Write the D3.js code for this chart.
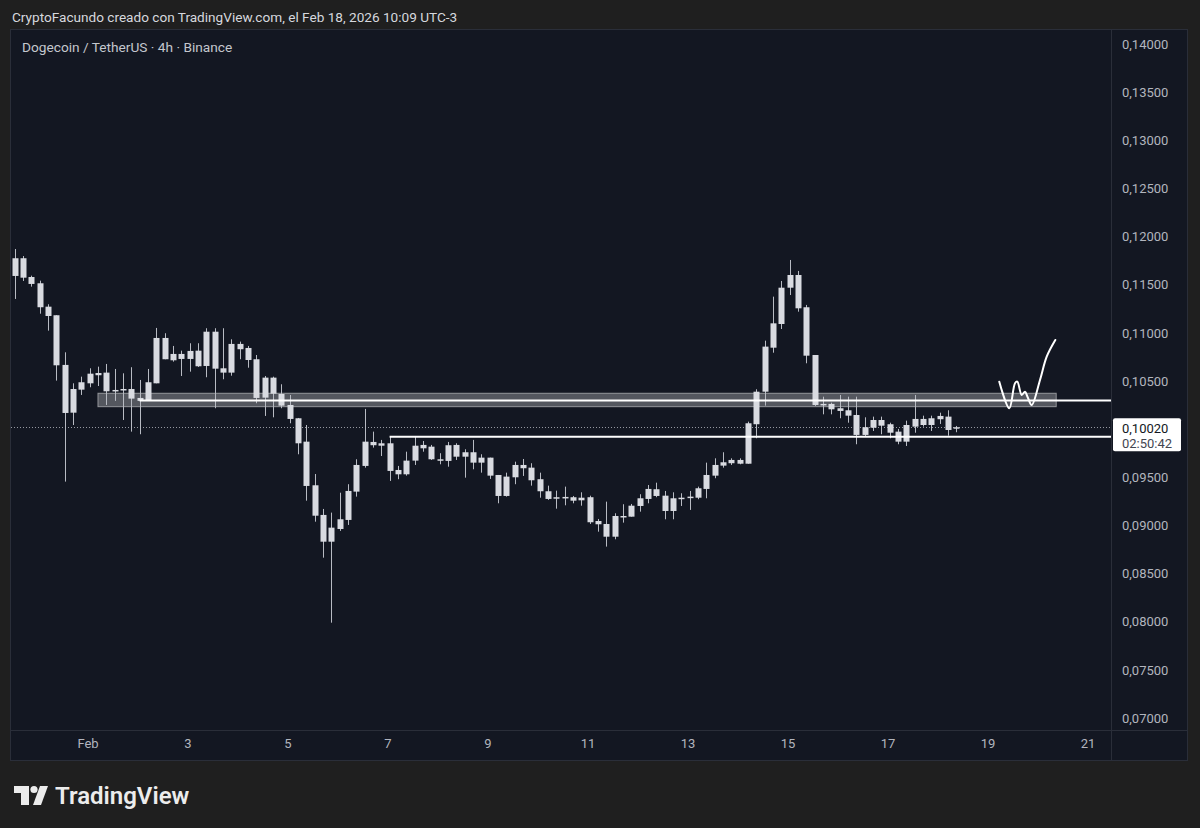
<!DOCTYPE html>
<html>
<head>
<meta charset="utf-8">
<script src="https://cdn.jsdelivr.net/npm/d3@7"></script>
<style>
  html, body { margin: 0; padding: 0; background: #1f1f1f; }
  svg { display: block; }
</style>
</head>
<body>
<svg id="chart" width="1200" height="828"></svg>
<script>
// DOGE/USDT 4h, times kept as local UTC-3 wall clock; first bar Jan 30 13:00
const firstBar = Date.UTC(2026, 0, 30, 13);
const barMs = 4 * 3600 * 1000;

const open = [
  0.11591, 0.11775, 0.11580, 0.11515, 0.11272, 0.11183, 0.10667, 0.10171, 0.10410, 0.10476,
  0.10583, 0.10587, 0.10393, 0.10407, 0.10417, 0.10324, 0.10300, 0.10476, 0.10947, 0.10715,
  0.10781, 0.10729, 0.10815, 0.10656, 0.11012, 0.10632, 0.10587, 0.10885, 0.10843, 0.10726,
  0.10327, 0.10535, 0.10365, 0.10251, 0.10113, 0.09870, 0.09417, 0.09109, 0.08831, 0.08963,
  0.09057, 0.09351, 0.09618, 0.09867, 0.09828, 0.09853, 0.09576, 0.09531, 0.09673, 0.09836,
  0.09818, 0.09687, 0.09670, 0.09836, 0.09714, 0.09760, 0.09652, 0.09704, 0.09524, 0.09306,
  0.09500, 0.09628, 0.09600, 0.09480, 0.09355, 0.09278, 0.09296, 0.09293, 0.09261, 0.09293,
  0.09046, 0.09015, 0.08883, 0.09098, 0.09091, 0.09202, 0.09275, 0.09376, 0.09309, 0.09150,
  0.09275, 0.09285, 0.09288, 0.09379, 0.09517, 0.09621, 0.09646, 0.09680, 0.09641, 0.10051,
  0.10389, 0.10846, 0.11092, 0.11469, 0.11601, 0.11266, 0.10770, 0.10262, 0.10262, 0.10217,
  0.10196, 0.10147, 0.09940, 0.10015, 0.10095, 0.10051, 0.09974, 0.09870, 0.10026, 0.10106,
  0.10043, 0.10103, 0.10130, 0.10005
];
const high = [
  0.11871, 0.11798, 0.11594, 0.11542, 0.11297, 0.11183, 0.10798, 0.10476, 0.10545, 0.10632,
  0.10649, 0.10677, 0.10625, 0.10580, 0.10643, 0.10511, 0.10625, 0.11051, 0.10996, 0.10864,
  0.10815, 0.10892, 0.10892, 0.11048, 0.11048, 0.11048, 0.10933, 0.10909, 0.10864, 0.10770,
  0.10552, 0.10545, 0.10466, 0.10355, 0.10116, 0.10043, 0.09534, 0.09171, 0.09133, 0.09340,
  0.09428, 0.09687, 0.10210, 0.09974, 0.09888, 0.09922, 0.09618, 0.09766, 0.09929, 0.09877,
  0.09836, 0.09750, 0.09867, 0.09853, 0.09791, 0.09888, 0.09739, 0.09704, 0.09524, 0.09548,
  0.09662, 0.09690, 0.09646, 0.09548, 0.09413, 0.09361, 0.09403, 0.09306, 0.09344, 0.09309,
  0.09067, 0.09247, 0.09126, 0.09220, 0.09223, 0.09324, 0.09420, 0.09444, 0.09358, 0.09344,
  0.09334, 0.09358, 0.09403, 0.09652, 0.09697, 0.09760, 0.09697, 0.09697, 0.10078, 0.10414,
  0.10919, 0.11376, 0.11539, 0.11757, 0.11643, 0.11290, 0.10770, 0.10337, 0.10275, 0.10355,
  0.10337, 0.10337, 0.10123, 0.10130, 0.10130, 0.10067, 0.10002, 0.10088, 0.10355, 0.10140,
  0.10140, 0.10171, 0.10196, 0.10033
];
const low = [
  0.11352, 0.11539, 0.11480, 0.11199, 0.11023, 0.10504, 0.09455, 0.10043, 0.10355, 0.10435,
  0.10448, 0.10251, 0.10293, 0.10095, 0.09974, 0.09947, 0.10293, 0.10476, 0.10726, 0.10701,
  0.10552, 0.10597, 0.10646, 0.10539, 0.10217, 0.10518, 0.10555, 0.10726, 0.10638, 0.10269,
  0.10137, 0.10123, 0.10217, 0.10061, 0.09739, 0.09257, 0.09039, 0.08665, 0.07990, 0.08943,
  0.09005, 0.09299, 0.09600, 0.09808, 0.09721, 0.09462, 0.09480, 0.09517, 0.09628, 0.09766,
  0.09680, 0.09635, 0.09610, 0.09680, 0.09496, 0.09583, 0.09548, 0.09483, 0.09230, 0.09299,
  0.09428, 0.09514, 0.09413, 0.09288, 0.09265, 0.09174, 0.09209, 0.09230, 0.09205, 0.09015,
  0.08935, 0.08780, 0.08856, 0.09029, 0.09091, 0.09143, 0.09230, 0.09293, 0.09064, 0.09064,
  0.09202, 0.09161, 0.09272, 0.09282, 0.09490, 0.09600, 0.09628, 0.09635, 0.09641, 0.09905,
  0.10244, 0.10794, 0.11040, 0.11393, 0.11220, 0.10684, 0.10241, 0.10154, 0.10154, 0.10113,
  0.10067, 0.09843, 0.09929, 0.09981, 0.09947, 0.09905, 0.09843, 0.09825, 0.09963, 0.10026,
  0.09981, 0.10054, 0.09932, 0.09968
];
const close = [
  0.11775, 0.11573, 0.11508, 0.11266, 0.11175, 0.10663, 0.10168, 0.10417, 0.10487, 0.10576,
  0.10560, 0.10393, 0.10407, 0.10417, 0.10317, 0.10293, 0.10487, 0.10947, 0.10726, 0.10781,
  0.10729, 0.10812, 0.10653, 0.11012, 0.10628, 0.10587, 0.10885, 0.10830, 0.10718, 0.10324,
  0.10535, 0.10368, 0.10244, 0.10106, 0.09853, 0.09410, 0.09101, 0.08831, 0.08977, 0.09064,
  0.09358, 0.09628, 0.09870, 0.09833, 0.09853, 0.09566, 0.09531, 0.09673, 0.09828, 0.09801,
  0.09687, 0.09673, 0.09833, 0.09714, 0.09760, 0.09652, 0.09704, 0.09517, 0.09306, 0.09507,
  0.09628, 0.09594, 0.09469, 0.09355, 0.09275, 0.09293, 0.09282, 0.09257, 0.09288, 0.09033,
  0.09012, 0.08883, 0.09098, 0.09085, 0.09205, 0.09282, 0.09379, 0.09306, 0.09150, 0.09282,
  0.09288, 0.09299, 0.09386, 0.09524, 0.09628, 0.09656, 0.09680, 0.09641, 0.10061, 0.10389,
  0.10857, 0.11099, 0.11469, 0.11601, 0.11255, 0.10763, 0.10251, 0.10254, 0.10206, 0.10189,
  0.10140, 0.09940, 0.10020, 0.10095, 0.10036, 0.09963, 0.09870, 0.10043, 0.10106, 0.10043,
  0.10113, 0.10137, 0.09991, 0.10020
];

const priceTicks = [0.07, 0.075, 0.08, 0.085, 0.09, 0.095, 0.10, 0.105, 0.11, 0.115, 0.12, 0.125, 0.13, 0.135, 0.14];
const dayTicks = [1, 3, 5, 7, 9, 11, 13, 15, 17, 19, 21];
const dayLabels = ["Feb", "3", "5", "7", "9", "11", "13", "15", "17", "19", "21"];

// drawings
const zone = { from: Date.UTC(2026, 1, 1, 5), to: Date.UTC(2026, 1, 20, 9), top: 0.10373, bottom: 0.10233 };
const rayLines = [
  { from: Date.UTC(2026, 1, 2, 1), price: 0.10298 },
  { from: Date.UTC(2026, 1, 7, 1), price: 0.09922 }
];
// hand drawn projection (days after Feb 1 00:00, price)
const sketchDays = [18.236, 18.436, 18.55, 18.596, 18.684, 18.75, 18.804, 18.884, 19.05, 19.184, 19.356];
const sketchPrices = [0.10493, 0.10217, 0.10476, 0.10493, 0.10355, 0.10389, 0.10331, 0.10251, 0.10511, 0.10753, 0.10926];

const lastPrice = 0.10020;
const countdown = "02:50:42";

const panel = { left: 11, top: 30, right: 1187, bottom: 760 };
const plotRight = 1111, plotBottom = 730;
const font = "Roboto, 'Noto Sans', sans-serif";

const svg = d3.select("#chart");

const x = d3.scaleUtc()
  .domain([Date.UTC(2026, 1, 1), Date.UTC(2026, 1, 21)])
  .range([87.5, 1087.5]);
const y = d3.scaleLinear().domain([0.07, 0.14]).range([718, 44]);

const loc = d3.formatLocale({ decimal: ",", thousands: ".", grouping: [3], currency: ["", ""] });
const fmt = loc.format(".5f");

// header
svg.append("text")
  .attr("x", 12).attr("y", 17)
  .attr("dominant-baseline", "central")
  .attr("font-family", font).attr("font-size", 13.6)
  .attr("fill", "#d6d8de")
  .text("CryptoFacundo creado con TradingView.com, el Feb 18, 2026 10:09 UTC-3");

// panel
svg.append("rect")
  .attr("x", panel.left - 0.5).attr("y", panel.top - 0.5)
  .attr("width", panel.right - panel.left + 1).attr("height", panel.bottom - panel.top + 1)
  .attr("fill", "#131722").attr("stroke", "#2a2e39");

svg.append("line")
  .attr("x1", plotRight + 0.5).attr("x2", plotRight + 0.5)
  .attr("y1", panel.top).attr("y2", panel.bottom)
  .attr("stroke", "#2a2e39");
svg.append("line")
  .attr("x1", panel.left).attr("x2", panel.right)
  .attr("y1", plotBottom + 0.5).attr("y2", plotBottom + 0.5)
  .attr("stroke", "#2a2e39");

svg.append("defs").append("clipPath").attr("id", "plot")
  .append("rect")
  .attr("x", panel.left).attr("y", panel.top)
  .attr("width", plotRight - panel.left).attr("height", plotBottom - panel.top);

const g = svg.append("g").attr("clip-path", "url(#plot)");

// title
svg.append("text")
  .attr("x", 22).attr("y", 47)
  .attr("dominant-baseline", "central")
  .attr("font-family", font).attr("font-size", 13.7)
  .attr("fill", "#c4c7ce")
  .text("Dogecoin / TetherUS \u00b7 4h \u00b7 Binance");

// zone
g.append("rect")
  .attr("x", x(zone.from)).attr("y", y(zone.top))
  .attr("width", x(zone.to) - x(zone.from))
  .attr("height", y(zone.bottom) - y(zone.top))
  .attr("fill", "rgba(255,255,255,0.28)")
  .attr("stroke", "rgba(255,255,255,0.45)");

// last price dotted line
g.append("line")
  .attr("x1", panel.left).attr("x2", plotRight)
  .attr("y1", Math.round(y(lastPrice)) + 0.5).attr("y2", Math.round(y(lastPrice)) + 0.5)
  .attr("stroke", "#9598a1").attr("stroke-dasharray", "1,2");

// candles
const bars = d3.range(open.length).map(i => ({
  t: firstBar + i * barMs, o: open[i], h: high[i], l: low[i], c: close[i]
}));
const bodyW = 6;
const cg = g.append("g");
cg.selectAll("line.wick").data(bars).join("line")
  .attr("class", "wick")
  .attr("x1", d => Math.round(x(d.t)) + 0.5).attr("x2", d => Math.round(x(d.t)) + 0.5)
  .attr("y1", d => y(d.h)).attr("y2", d => y(d.l))
  .attr("stroke", "#b8bbc3").attr("stroke-width", 1);
cg.selectAll("rect.body").data(bars).join("rect")
  .attr("class", "body")
  .attr("x", d => Math.round(x(d.t)) + 0.5 - bodyW / 2)
  .attr("y", d => y(Math.max(d.o, d.c)))
  .attr("width", bodyW)
  .attr("height", d => Math.max(1.5, y(Math.min(d.o, d.c)) - y(Math.max(d.o, d.c))))
  .attr("fill", "#d9dbe1");

// horizontal rays
g.selectAll("line.ray").data(rayLines).join("line")
  .attr("class", "ray")
  .attr("x1", d => x(d.from)).attr("x2", plotRight)
  .attr("y1", d => y(d.price)).attr("y2", d => y(d.price))
  .attr("stroke", "#ffffff").attr("stroke-width", 2);

// sketch
const sketch = d3.line()
  .x((d, i) => x(Date.UTC(2026, 1, 1) + sketchDays[i] * 864e5))
  .y((d, i) => y(sketchPrices[i]))
  .curve(d3.curveCatmullRom.alpha(0.5));
g.append("path")
  .attr("d", sketch(sketchDays))
  .attr("fill", "none").attr("stroke", "#ffffff")
  .attr("stroke-width", 2).attr("stroke-linecap", "round").attr("stroke-linejoin", "round");

// price axis
const yAxis = d3.axisRight(y).tickValues(priceTicks).tickFormat(fmt).tickSize(0).tickPadding(11);
const ya = svg.append("g").attr("transform", `translate(${plotRight},0)`).call(yAxis);
ya.select(".domain").remove();
ya.selectAll("text").attr("font-family", font).attr("font-size", 13).attr("fill", "#b2b5be");

// time axis
const xAxis = d3.axisBottom(x)
  .tickValues(dayTicks.map(d => new Date(Date.UTC(2026, 1, d))))
  .tickFormat((d, i) => dayLabels[i]).tickSize(0).tickPadding(9);
const xa = svg.append("g").attr("transform", `translate(0,${plotBottom})`).call(xAxis);
xa.select(".domain").remove();
xa.selectAll("text").attr("font-family", font).attr("font-size", 13).attr("fill", "#b2b5be");

// last price label
const ly = y(lastPrice);
const lab = svg.append("g");
lab.append("rect")
  .attr("x", plotRight + 2).attr("y", ly - 9)
  .attr("width", 68).attr("height", 33).attr("rx", 2)
  .attr("fill", "#ffffff");
lab.append("text")
  .attr("x", plotRight + 11).attr("y", ly + 1)
  .attr("dominant-baseline", "central")
  .attr("font-family", font).attr("font-size", 13).attr("fill", "#131722")
  .text(fmt(lastPrice));
lab.append("text")
  .attr("x", plotRight + 11).attr("y", ly + 16)
  .attr("dominant-baseline", "central")
  .attr("font-family", font).attr("font-size", 13).attr("fill", "#434651")
  .text(countdown);

// TradingView logo
const logo = svg.append("g").attr("fill", "#ececec");
logo.append("path").attr("d", "M14 786 H29 V805 H21 V793 H14 Z");
logo.append("circle").attr("cx", 34).attr("cy", 789.5).attr("r", 3.6);
logo.append("path").attr("d", "M40 786 H48 L41 805 H33 Z");
logo.append("text")
  .attr("x", 55).attr("y", 796)
  .attr("dominant-baseline", "central")
  .attr("font-family", font).attr("font-size", 24).attr("font-weight", 600)
  .attr("fill", "#ececec")
  .text("TradingView");
</script>
</body>
</html>
